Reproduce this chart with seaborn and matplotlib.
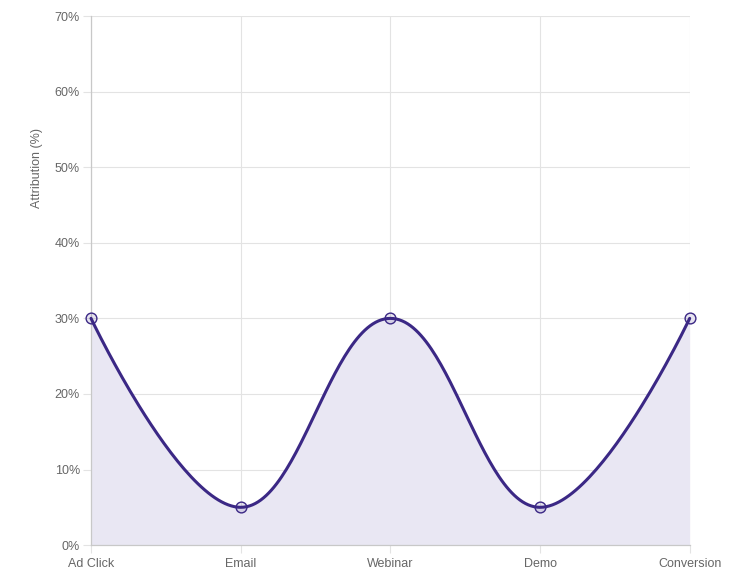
import matplotlib
matplotlib.use("Agg")
import matplotlib.pyplot as plt
import seaborn as sns
import numpy as np
import pandas as pd

# 数据
stages = ["Ad Click", "Email", "Webinar", "Demo", "Conversion"]
attribution = [30, 5, 30, 5, 30]

LINE_COLOR = "#3b2885"
FILL_COLOR = "#e9e7f3"
GRID_COLOR = "#e3e3e3"
TEXT_COLOR = "#666666"

sns.set_theme(style="white")
plt.rcParams["font.family"] = ["Liberation Sans", "DejaVu Sans"]


def spline_curve(ys, tension=0.4, n=60):
    # 类似 Chart.js 的贝塞尔平滑
    xs = np.arange(len(ys), dtype=float)
    ys = np.asarray(ys, dtype=float)
    ctrl = []
    for i in range(len(xs)):
        if i == 0 or i == len(xs) - 1:
            ctrl.append(((xs[i], ys[i]), (xs[i], ys[i])))
            continue
        d01 = np.hypot(xs[i] - xs[i - 1], ys[i] - ys[i - 1])
        d12 = np.hypot(xs[i + 1] - xs[i], ys[i + 1] - ys[i])
        s01 = d01 / (d01 + d12)
        s12 = d12 / (d01 + d12)
        dx = xs[i + 1] - xs[i - 1]
        dy = ys[i + 1] - ys[i - 1]
        ctrl.append(((xs[i] - tension * s01 * dx, ys[i] - tension * s01 * dy),
                     (xs[i] + tension * s12 * dx, ys[i] + tension * s12 * dy)))
    t = np.linspace(0, 1, n)
    out_x, out_y = [], []
    for i in range(len(xs) - 1):
        p0 = np.array([xs[i], ys[i]])
        p1 = np.array(ctrl[i][1])
        p2 = np.array(ctrl[i + 1][0])
        p3 = np.array([xs[i + 1], ys[i + 1]])
        pts = ((1 - t) ** 3)[:, None] * p0 + (3 * (1 - t) ** 2 * t)[:, None] * p1 \
            + (3 * (1 - t) * t ** 2)[:, None] * p2 + (t ** 3)[:, None] * p3
        out_x.extend(pts[:, 0])
        out_y.extend(pts[:, 1])
    return np.array(out_x), np.array(out_y)


df = pd.DataFrame({"stage": stages, "x": range(len(stages)), "value": attribution})
cx, cy = spline_curve(attribution)
curve = pd.DataFrame({"x": cx, "value": cy})

fig = plt.figure(figsize=(7.4, 5.75), dpi=100)
ax = fig.add_axes([0.123, 0.052, 0.809, 0.920])

ax.fill_between(cx, cy, 0, color=FILL_COLOR, linewidth=0, zorder=1)
sns.lineplot(data=curve, x="x", y="value", ax=ax, color=LINE_COLOR,
             linewidth=2.2, sort=False, zorder=3)
sns.scatterplot(data=df, x="x", y="value", ax=ax, s=60, marker="o",
                facecolor=(0.23, 0.16, 0.52, 0.12), edgecolor=LINE_COLOR,
                linewidth=1.0, zorder=4)
for coll in ax.collections:
    coll.set_clip_on(False)
for line in ax.lines:
    line.set_clip_on(False)

ax.set_xlim(0, len(stages) - 1)
ax.set_ylim(0, 70)
ax.set_xticks(range(len(stages)))
ax.set_xticklabels(stages)
ax.set_yticks(range(0, 71, 10))
ax.set_yticklabels([f"{v}%" for v in range(0, 71, 10)])

ax.grid(True, color=GRID_COLOR, linewidth=0.8)
ax.set_axisbelow(True)
for side in ["top", "right"]:
    ax.spines[side].set_visible(False)
for side in ["left", "bottom"]:
    ax.spines[side].set_color("#c8c8c8")
    ax.spines[side].set_linewidth(0.9)

ax.tick_params(axis="both", length=6, width=0.8, color=GRID_COLOR,
               labelsize=9, labelcolor=TEXT_COLOR)
ax.tick_params(axis="x", bottom=True, pad=3.5)
ax.tick_params(axis="y", left=True, pad=2)

ax.set_xlabel("")
ax.set_ylabel("Attribution (%)", fontsize=9, color=TEXT_COLOR)
ax.yaxis.set_label_coords(-0.080, 0.713)

fig.savefig("out.png", dpi=100)
